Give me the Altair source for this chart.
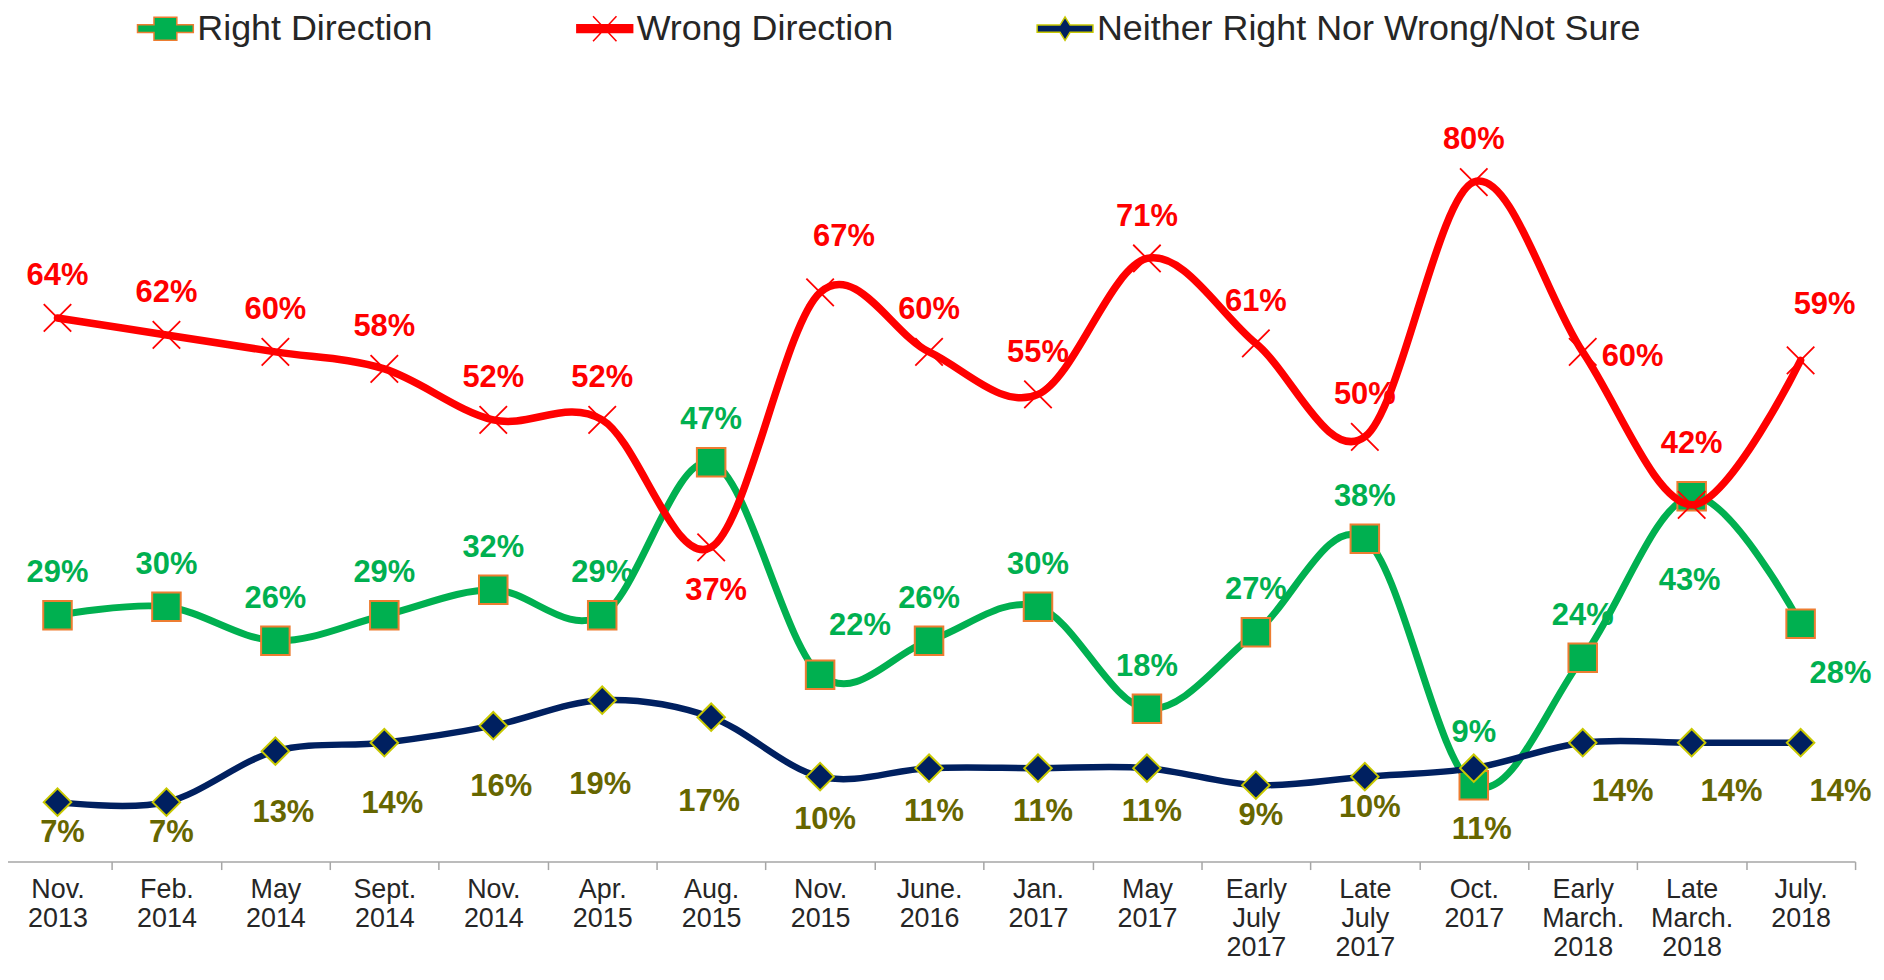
import altair as alt
import pandas as pd

FONT = "Liberation Sans, Arial, sans-serif"

# ---------------- data ----------------
categories = [
    "Nov.\n2013", "Feb.\n2014", "May\n2014", "Sept.\n2014", "Nov.\n2014",
    "Apr.\n2015", "Aug.\n2015", "Nov.\n2015", "June.\n2016", "Jan.\n2017",
    "May\n2017", "Early\nJuly\n2017", "Late\nJuly\n2017", "Oct.\n2017",
    "Early\nMarch.\n2018", "Late\nMarch.\n2018", "July.\n2018",
]
series_names = ["Right Direction", "Wrong Direction", "Neither Right Nor Wrong/Not Sure"]

right_direction = [29, 30, 26, 29, 32, 29, 47, 22, 26, 30, 18, 27, 38, 9, 24, 43, 28]
wrong_direction = [64, 62, 60, 58, 52, 52, 37, 67, 60, 55, 71, 61, 50, 80, 60, 42, 59]
neither_sure = [7, 7, 13, 14, 16, 19, 17, 10, 11, 11, 11, 9, 10, 11, 14, 14, 14]

# where each data label sits relative to its point
right_label_side = ["above"] * 7 + ["right_up"] + ["above"] * 5 + ["above_mid", "above", "below_far", "below_right"]
wrong_label_side = ["above"] * 6 + ["below", "above_right"] + ["above"] * 6 + ["right", "above_far", "above_right"]
neither_label_side = ["below_near", "below_near", "below_mid", "below_mid", "below_mid", "below_far", "below_far",
                      "below", "below", "below", "below", "below_near", "below_near", "below_mid",
                      "below_right", "below_right", "below_right"]

# ---------------- styles ----------------
LABEL_OFFSETS = {
    "above": (0, -42), "above_mid": (0, -52), "above_far": (0, -61),
    "above_right": (24, -56), "right_up": (40, -49), "right": (50, 5),
    "below_near": (5, 31), "below": (5, 44), "below_mid": (8, 62),
    "below_far": (-2, 85), "below_right": (40, 50),
}
line_colors = ["#00B050", "#FF0000", "#002060"]
marker_strokes = ["#ED7D31", "#FF0000", "#C8C800"]
label_colors = ["#00B050", "#FF0000", "#666600"]
line_widths = [7, 7.5, 6.5]

all_values = [right_direction, wrong_direction, neither_sure]
all_sides = [right_label_side, wrong_label_side, neither_label_side]

rows = []
for name, vals, sides in zip(series_names, all_values, all_sides):
    for cat, v, side in zip(categories, vals, sides):
        rows.append({"series": name, "category": cat, "value": v, "label": f"{v}%", "side": side})
df = pd.DataFrame(rows)

x_enc = alt.X(
    "category:N", sort=categories, bandPosition=0.5,
    scale=alt.Scale(type="band", paddingInner=0, paddingOuter=0, range=[-5, 1854]),
    axis=alt.Axis(
        title=None, labelAngle=0, labelExpr="split(datum.label, '\\n')",
        labelFont=FONT, labelFontSize=27, labelColor="#262626", labelLineHeight=29,
        labelPadding=7, labelOverlap=False, labelBaseline="top", labelFlush=False,
        tickBand="extent", tickSize=8, tickColor="#A6A6A6", tickWidth=1.5,
        domainColor="#A6A6A6", domainWidth=1.5, grid=False,
    ),
)
y_enc = alt.Y("value:Q", scale=alt.Scale(domain=[0, 95], nice=False, zero=False), axis=None)

base = alt.Chart(df).encode(x=x_enc, y=y_enc)

layers = []
marker_defs = [
    dict(shape="square", filled=True, fill=line_colors[0], stroke=marker_strokes[0], strokeWidth=2, size=820),
    dict(shape="M-1,-1L1,1M-1,1L1,-1", filled=False, stroke=marker_strokes[1], strokeWidth=1.8, size=760),
    dict(shape="diamond", filled=True, fill=line_colors[2], stroke=marker_strokes[2], strokeWidth=2, size=760),
]
for i, name in enumerate(series_names):
    sub = base.transform_filter(alt.datum.series == name)
    layers.append(sub.mark_line(interpolate="cardinal", color=line_colors[i], strokeWidth=line_widths[i],
                                strokeCap="round", strokeJoin="round"))
    layers.append(sub.mark_point(opacity=1, **marker_defs[i]))

# data labels, one layer per series and label side
for i, name in enumerate(series_names):
    for side in dict.fromkeys(all_sides[i]):
        dx, dy = LABEL_OFFSETS[side]
        layers.append(
            base.transform_filter((alt.datum.series == name) & (alt.datum.side == side))
            .mark_text(dx=dx, dy=dy, font=FONT, fontSize=31, fontWeight="bold", baseline="middle",
                       align="center", color=label_colors[i])
            .encode(text="label:N")
        )

# legend (symbols: line with marker); the layer's own marks are invisible
legend_shapes = [
    "M-1,-0.14H-0.41V-0.41H0.41V-0.14H1V0.14H0.41V0.41H-0.41V0.14H-1Z",
    "M-1,-0.14H1V0.14H-1Z M-0.42,-0.45L0.42,0.45 M-0.42,0.45L0.42,-0.45",
    "M-1,-0.13H-0.18L0,-0.42L0.18,-0.13H1V0.13H0.18L0,0.42L-0.18,0.13H-1Z",
]
leg = alt.Legend(
    title=None, orient="top", direction="horizontal", padding=129, offset=-121,
    symbolSize=3136, symbolStrokeWidth=1.5, symbolOpacity=1,
    labelFont=FONT, labelFontSize=36, labelColor="#262626", labelOffset=3,
    labelLimit=1200, columnPadding=141,
)
legend_df = pd.DataFrame({"series": series_names})
legend_layer = (
    alt.Chart(legend_df).mark_point(filled=True, opacity=0, size=1)
    .encode(
        color=alt.Color("series:N", scale=alt.Scale(domain=series_names, range=line_colors), legend=leg),
        stroke=alt.Stroke("series:N", scale=alt.Scale(domain=series_names, range=marker_strokes), legend=leg),
        shape=alt.Shape("series:N", scale=alt.Scale(domain=series_names, range=legend_shapes), legend=leg),
    )
)
layers.append(legend_layer)

chart = (
    alt.layer(*layers)
    .properties(width=1859, height=810,
                padding={"left": 0, "top": 45, "right": 16, "bottom": 102},
                autosize=alt.AutoSizeParams(type="none"))
    .configure_view(stroke=None)
)

chart.save("out.html", embed_options={"renderer": "svg", "actions": False})
